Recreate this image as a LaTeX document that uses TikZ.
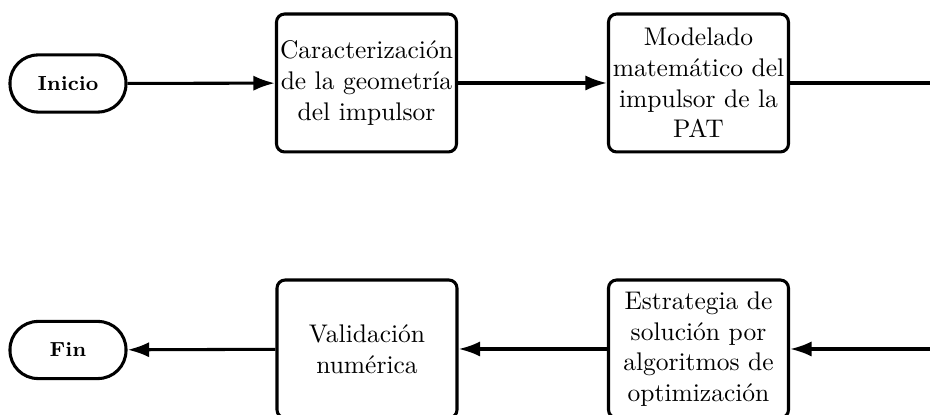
\documentclass[tikz,border=0pt]{standalone}
\usetikzlibrary{arrows.meta}
\begin{document}
\begin{tikzpicture}[x=0.3922pt,y=-0.3922pt,line width=1.2pt,
  term/.style={draw,rounded corners=11pt,minimum width=45.5pt,minimum height=22.4pt,inner sep=0pt,font=\footnotesize\bfseries},
  proc/.style={draw,rounded corners=3.2pt,minimum width=70.6pt,minimum height=54.1pt,inner sep=0pt,align=center},
  arr/.style={-{Latex[length=8.5pt,width=6pt]}}]
\useasboundingbox (0,0) rectangle (930,415);
\clip (0,0) rectangle (930,415);
\node[term] (ini) at (68,83.5) {Inicio};
\node[proc] (b1) at (366.5,83) {Caracterización\\de la geometría\\del impulsor};
\node[proc] (b2) at (698.5,83) {Modelado\\matemático del\\impulsor de la\\PAT};
\node[term] (fin) at (68,350) {Fin};
\node[proc] (b3) at (367,349) {Validación\\numérica};
\node[proc] (b4) at (698.5,349) {Estrategia de\\solución por\\algoritmos de\\optimización};
\coordinate (r) at (980,216);
\draw[arr] (ini) -- (b1);
\draw[arr] (b1) -- (b2);
\draw[arr] (b2.east) -| (r) |- (b4.east);
\draw[arr] (b4) -- (b3);
\draw[arr] (b3) -- (fin);
\end{tikzpicture}
\end{document}
